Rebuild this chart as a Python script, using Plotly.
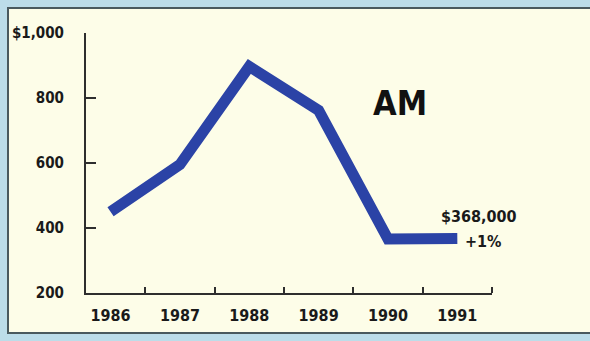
import plotly.graph_objects as go

years = ["1986", "1987", "1988", "1989", "1990", "1991"]
values = [450, 595, 897, 762, 366, 368]
y_ticks = [200, 400, 600, 800, 1000]
y_tick_text = ["200", "400", "600", "800", "$1,000"]
label_main = "AM"
label_value = "$368,000"
label_change = "+1%"

FONT = "DejaVu Sans Condensed, Roboto, sans-serif"
INK = "#1a1a1a"
AXIS = "#2e2e2e"
BLUE = "#2b43a6"

xpos = list(range(len(years)))

fig = go.Figure()
fig.add_trace(go.Scatter(
    x=xpos, y=values, mode="lines",
    line=dict(color=BLUE, width=11),
    hoverinfo="skip", showlegend=False,
))

fig.update_layout(
    width=590, height=341,
    margin=dict(l=86, r=98, t=33, b=48),
    paper_bgcolor="#bcdde9",
    plot_bgcolor="rgba(0,0,0,0)",
    font=dict(family=FONT, color=INK, size=16),
    showlegend=False,
)

fig.add_shape(
    type="rect", xref="paper", yref="paper", layer="below",
    x0=(8 - 86) / 406, x1=(640 - 86) / 406,
    y0=(293 - 333) / 260, y1=(293 - 8) / 260,
    fillcolor="#fdfde8", line=dict(color="#4a5a5e", width=2),
)

fig.update_xaxes(
    range=[-0.354, 5.5],
    tickvals=xpos, ticktext=years,
    ticks="", showgrid=False, zeroline=False,
    showline=True, linecolor=AXIS, linewidth=2,
    tickfont=dict(family=FONT, size=16, color=INK, weight="bold"),
    ticklabelstandoff=7,
    minor=dict(tickvals=[0.5, 1.5, 2.5, 3.5, 4.5, 5.5], ticks="inside",
               ticklen=6, tickwidth=2, tickcolor=AXIS, showgrid=False),
)
fig.update_yaxes(
    range=[200, 1000],
    tickvals=y_ticks, ticktext=y_tick_text,
    ticks="inside", ticklen=10, tickwidth=2, tickcolor=AXIS,
    showgrid=False, zeroline=False,
    showline=True, linecolor=AXIS, linewidth=2,
    tickfont=dict(family=FONT, size=15, color=INK, weight="bold"),
    ticklabelstandoff=17,
)

fig.add_annotation(
    x=4.17, y=785, xref="x", yref="y", text=label_main, showarrow=False,
    font=dict(family=FONT, size=34, color="#111111", weight="bold"),
)
fig.add_annotation(
    x=5.31, y=434, xref="x", yref="y", text=label_value, showarrow=False,
    font=dict(family=FONT, size=16, color=INK, weight="bold"),
)
fig.add_annotation(
    x=5.38, y=357, xref="x", yref="y", text=label_change, showarrow=False,
    font=dict(family=FONT, size=16, color=INK, weight="bold"),
)

fig.write_html("out.html")
